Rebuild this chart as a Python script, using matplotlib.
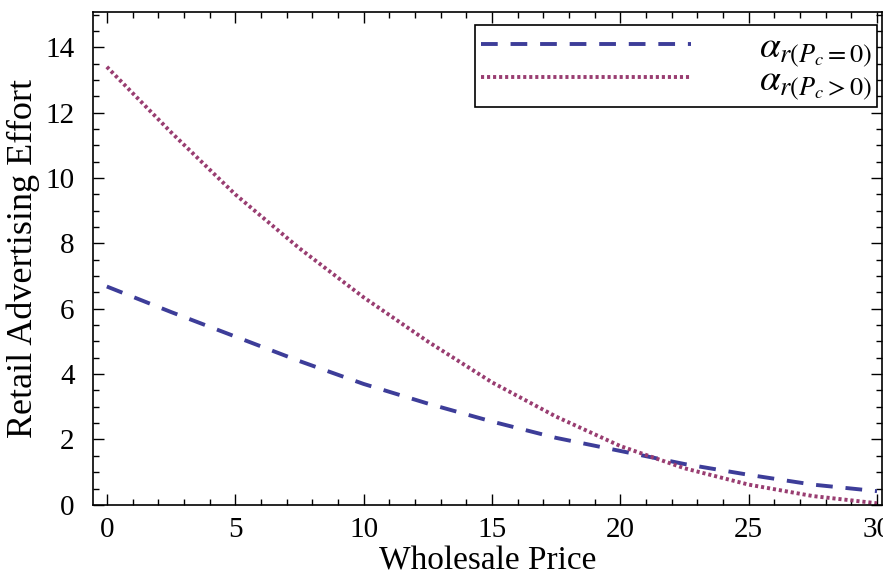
import matplotlib
matplotlib.use('Agg')
import matplotlib.pyplot as plt
from matplotlib.ticker import MultipleLocator

plt.rcParams['font.family'] = ['Liberation Serif', 'DejaVu Serif']
plt.rcParams['mathtext.fontset'] = 'stix'

# values
price = [0, 2.5, 5, 7.5, 10, 12.5, 15, 17.5, 20, 22.5, 25, 27.5, 30]
effort_pc0 = [6.68, 5.9, 5.15, 4.4, 3.7, 3.1, 2.55, 2.05, 1.65, 1.25, 0.92, 0.62, 0.42]
effort_pcpos = [13.4, 11.4, 9.5, 7.85, 6.35, 5.0, 3.75, 2.7, 1.8, 1.12, 0.62, 0.27, 0.05]
labels = [r'$\alpha_{r(P_c=0)}$', r'$\alpha_{r(P_c>0)}$']

fig = plt.figure(figsize=(8.83, 5.83), dpi=100)
ax = fig.add_axes([0.105, 0.134, 0.894, 0.845])

ax.plot(price, effort_pc0, color=(0.24, 0.24, 0.6), lw=2.8,
        linestyle=(0, (4.3, 3.3)), label=labels[0])
ax.plot(price, effort_pcpos, color=(0.6, 0.24, 0.442), lw=2.8,
        linestyle=(0, (0.8, 0.75)), label=labels[1])

ax.set_xlim(-0.55, 30.2)
ax.set_ylim(0, 15.07)
ax.xaxis.set_major_locator(MultipleLocator(5))
ax.xaxis.set_minor_locator(MultipleLocator(1))
ax.yaxis.set_major_locator(MultipleLocator(2))
ax.yaxis.set_minor_locator(MultipleLocator(0.5))
ax.tick_params(which='both', direction='in', top=True, right=True,
               labelsize=21, width=1)
ax.tick_params(which='major', length=8)
ax.tick_params(axis='y', which='major', pad=13)
ax.tick_params(axis='x', which='major', pad=9)
ax.tick_params(which='minor', length=4)
for s in ax.spines.values():
    s.set_linewidth(1.2)

ax.set_xlabel('Wholesale Price', fontsize=24, labelpad=2)
ax.set_ylabel('Retail Advertising Effort', fontsize=26, labelpad=4)

leg = ax.legend(loc='upper right', bbox_to_anchor=(0.994, 0.974),
                borderaxespad=0, fontsize=27, handlelength=5.6,
                fancybox=False, framealpha=1, edgecolor='black',
                labelspacing=-0.15, handletextpad=1.8, borderpad=0.15)
leg.get_frame().set_linewidth(1.2)

fig.savefig('out.png', dpi=100)
